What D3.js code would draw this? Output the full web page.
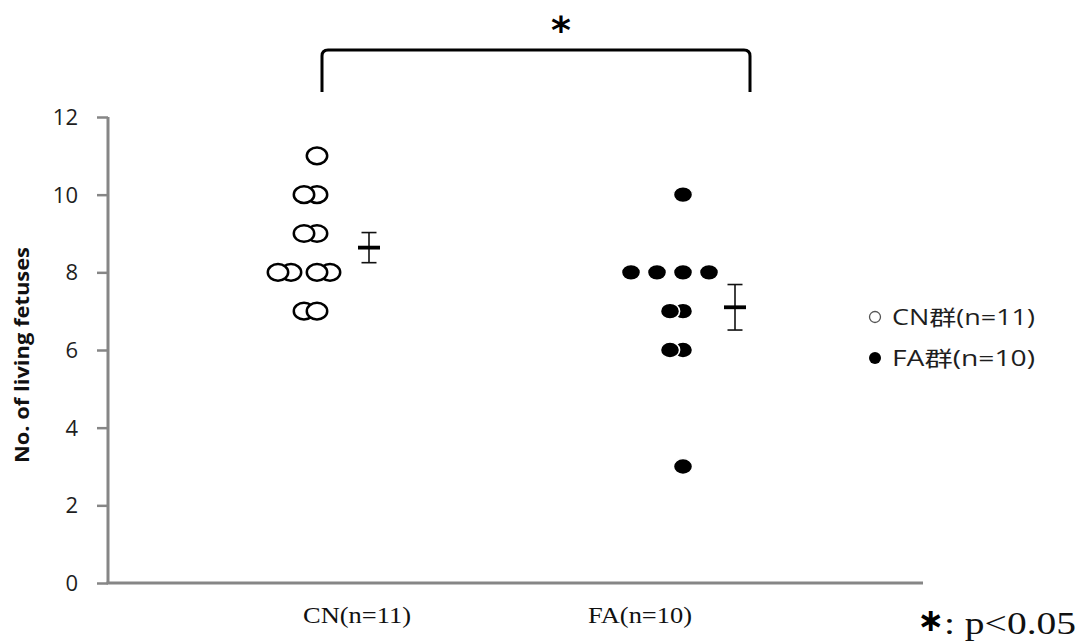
<!DOCTYPE html>
<html>
<head>
<meta charset="utf-8">
<script src="https://cdn.jsdelivr.net/npm/d3@7"></script>
<style>
  html, body { margin: 0; padding: 0; background: #fff; }
  svg { display: block; }
  .tick-label { font-family: "Open Sans", "Noto Sans", sans-serif; font-size: 22px; fill: #1e1e1e; }
  .y-title { font-family: "Open Sans", sans-serif; font-size: 19px; font-weight: bold; fill: #111; }
  .cat-label { font-family: "Liberation Serif", "Times New Roman", serif; font-size: 24px; fill: #111; }
  .legend-text { font-family: "Open Sans", "Noto Sans CJK JP", sans-serif; font-size: 21px; fill: #1e1e1e; }
  .note { font-family: "Liberation Serif", serif; font-size: 32px; fill: #111; }
</style>
</head>
<body>
<div id="chart"></div>
<script>
// groups and raw values
const groups = ["CN", "FA"];
const groupLabels = ["CN(n=11)", "FA(n=10)"];
const legendLabels = ["CN群(n=11)", "FA群(n=10)"];
const cnValues = [11, 10, 10, 9, 9, 8, 8, 8, 8, 7, 7];
const faValues = [10, 8, 8, 8, 8, 7, 7, 6, 6, 3];
// side-by-side slot of each dot inside its row (dot-plot stacking)
const cnSlots = [0, 0, -1, 0, -1, -2, -3, 1, 0, -1, 0];
const faSlots = [0, -4, -2, 0, 2, 0, -1, 0, -1, 0];
const yTicks = [0, 2, 4, 6, 8, 10, 12];
const yTitle = "No. of living fetuses";
const sigMark = "*";
const noteMark = "∗";
const sigNote = ": p<0.05";

const width = 1079, height = 643;
const svg = d3.select("#chart").append("svg")
    .attr("width", width).attr("height", height);

const y = d3.scaleLinear().domain([0, 12]).range([583, 117]);
const xDots = d3.scalePoint().domain(groups).range([317, 683]);
const xLabels = d3.scalePoint().domain(groups).range([357, 640]);
const slot = d3.scaleLinear().domain([0, 1]).range([0, 13]);

// axes
const axisColor = "#868686";
const yAxis = svg.append("g").attr("transform", "translate(108,0)")
    .call(d3.axisLeft(y).tickValues(yTicks).tickSize(11).tickPadding(0).tickFormat(""));
yAxis.select(".domain").attr("d", `M0,${y(12)}V${y(0)}`);
yAxis.selectAll("path, line").attr("stroke", axisColor).attr("stroke-width", 3);
yAxis.selectAll(".tick line").attr("stroke-width", 2.5);

svg.append("g").selectAll("text").data(yTicks).join("text")
    .attr("class", "tick-label")
    .attr("x", 78).attr("y", d => y(d) + 8)
    .attr("text-anchor", "end")
    .text(d => d);

svg.append("line")
    .attr("x1", 106.5).attr("x2", 923)
    .attr("y1", y(0)).attr("y2", y(0))
    .attr("stroke", axisColor).attr("stroke-width", 3);

svg.append("text").attr("class", "y-title")
    .attr("transform", `translate(29,${355}) rotate(-90)`)
    .attr("text-anchor", "middle")
    .attr("textLength", 216).attr("lengthAdjust", "spacingAndGlyphs")
    .text(yTitle);

// category labels
svg.append("g").selectAll("text").data(groups).join("text")
    .attr("class", "cat-label")
    .attr("x", d => xLabels(d)).attr("y", 623)
    .attr("text-anchor", "middle")
    .attr("textLength", (d, i) => i === 0 ? 108 : 104)
    .attr("lengthAdjust", "spacingAndGlyphs")
    .text((d, i) => groupLabels[i]);

// dots
const cnDots = cnValues.map((v, i) => ({ v, s: cnSlots[i] }));
const faDots = faValues.map((v, i) => ({ v, s: faSlots[i] }));

svg.append("g").selectAll("ellipse").data(cnDots).join("ellipse")
    .attr("cx", d => xDots("CN") + slot(d.s))
    .attr("cy", d => y(d.v))
    .attr("rx", 10.2).attr("ry", 8.3)
    .attr("fill", "#fff").attr("stroke", "#000").attr("stroke-width", 2.5);

svg.append("g").selectAll("ellipse").data(faDots).join("ellipse")
    .attr("cx", d => xDots("FA") + slot(d.s))
    .attr("cy", d => y(d.v))
    .attr("rx", 9.6).attr("ry", 8)
    .attr("fill", "#000").attr("stroke", "#fff").attr("stroke-width", 1.6);

// mean ± SE
const stats = [cnValues, faValues].map((vals, i) => ({
    g: groups[i],
    mean: d3.mean(vals),
    se: d3.deviation(vals) / Math.sqrt(vals.length)
}));
const meanOffset = 52;
const se = svg.append("g").selectAll("g").data(stats).join("g")
    .attr("transform", d => `translate(${xDots(d.g) + meanOffset},0)`);
se.append("line")
    .attr("y1", d => y(d.mean - d.se)).attr("y2", d => y(d.mean + d.se))
    .attr("stroke", "#111").attr("stroke-width", 1.6);
se.append("line")
    .attr("x1", -7.5).attr("x2", 7.5)
    .attr("y1", d => y(d.mean + d.se)).attr("y2", d => y(d.mean + d.se))
    .attr("stroke", "#111").attr("stroke-width", 1.6);
se.append("line")
    .attr("x1", -7.5).attr("x2", 7.5)
    .attr("y1", d => y(d.mean - d.se)).attr("y2", d => y(d.mean - d.se))
    .attr("stroke", "#111").attr("stroke-width", 1.6);
se.append("line")
    .attr("x1", -11).attr("x2", 11)
    .attr("y1", d => y(d.mean)).attr("y2", d => y(d.mean))
    .attr("stroke", "#000").attr("stroke-width", 3.8);

// significance bracket
const bx0 = 322, bx1 = 750, bTop = 50, bBot = 92, r = 6;
svg.append("path")
    .attr("d", `M${bx0},${bBot}V${bTop + r}Q${bx0},${bTop} ${bx0 + r},${bTop}H${bx1 - r}Q${bx1},${bTop} ${bx1},${bTop + r}V${bBot}`)
    .attr("fill", "none").attr("stroke", "#000").attr("stroke-width", 3);
svg.append("text")
    .attr("x", 561).attr("y", 43)
    .attr("text-anchor", "middle")
    .attr("font-family", "DejaVu Sans, sans-serif")
    .attr("font-weight", "bold").attr("font-size", 38)
    .text(sigMark);

// legend
const legend = svg.append("g").selectAll("g").data(legendLabels).join("g")
    .attr("transform", (d, i) => `translate(875,${317 + i * 41})`);
legend.append("circle")
    .attr("r", (d, i) => i === 0 ? 5.5 : 6)
    .attr("fill", (d, i) => i === 0 ? "#fff" : "#000")
    .attr("stroke", (d, i) => i === 0 ? "#555" : "none")
    .attr("stroke-width", 1.3);
legend.append("text").attr("class", "legend-text")
    .attr("x", 17).attr("y", 8)
    .attr("textLength", 143).attr("lengthAdjust", "spacingAndGlyphs")
    .text(d => d);

// p-value note
svg.append("text")
    .attr("x", 931).attr("y", 631)
    .attr("text-anchor", "middle")
    .attr("font-family", "DejaVu Sans, sans-serif")
    .attr("font-weight", "bold").attr("font-size", 32)
    .text(noteMark);
svg.append("text").attr("class", "note")
    .attr("x", 944).attr("y", 634)
    .attr("textLength", 132).attr("lengthAdjust", "spacingAndGlyphs")
    .text(sigNote);
</script>
</body>
</html>
